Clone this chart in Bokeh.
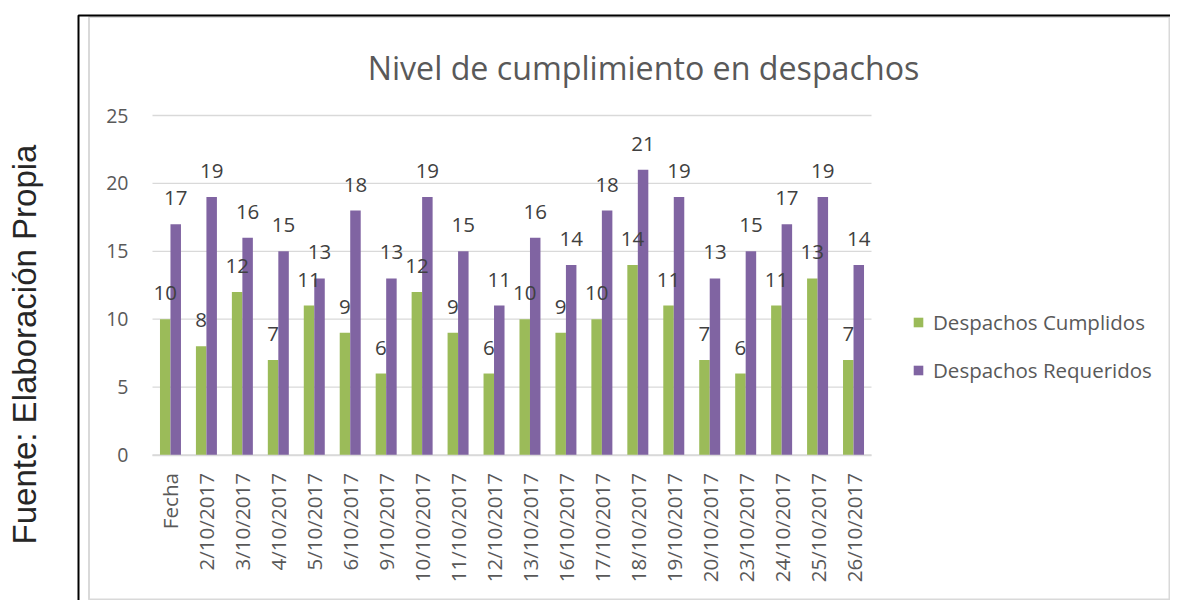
import math
from bokeh.plotting import figure
from bokeh.models import (ColumnDataSource, Range1d, Label, BoxAnnotation,
                          Legend, LegendItem, FixedTicker)
from bokeh.transform import dodge
from bokeh.core.properties import value
from bokeh.embed import file_html
from bokeh.resources import INLINE

categories = ["Fecha", "2/10/2017", "3/10/2017", "4/10/2017", "5/10/2017", "6/10/2017",
              "9/10/2017", "10/10/2017", "11/10/2017", "12/10/2017", "13/10/2017",
              "16/10/2017", "17/10/2017", "18/10/2017", "19/10/2017", "20/10/2017",
              "23/10/2017", "24/10/2017", "25/10/2017", "26/10/2017"]
cumplidos = [10, 8, 12, 7, 11, 9, 6, 12, 9, 6, 10, 9, 10, 14, 11, 7, 6, 11, 13, 7]
requeridos = [17, 19, 16, 15, 13, 18, 13, 19, 15, 11, 16, 14, 18, 21, 19, 13, 15, 17, 19, 14]
y_ticks = [0, 5, 10, 15, 20, 25]

title_text = "Nivel de cumplimiento en despachos"
source_text = "Fuente: Elaboración Propia"
series_names = ["Despachos Cumplidos", "Despachos Requeridos"]
colors = ["#9BBB59", "#8064A2"]

W, H = 1170, 600
# plot area (canvas px): categories span x 152..871, values 0..25 span y 454.5..115
FL, FR, F0, F25 = 152, 871, 454.5, 115
n = len(categories)
PX_X = (FR - FL) / n
PX_Y = (F0 - F25) / 25.0
x_start = -FL / PX_X
x_end = (W - FL) / PX_X
y_start = -(H - F0) / PX_Y
y_end = F0 / PX_Y

xc = [i + 0.5 for i in range(n)]

src = ColumnDataSource(dict(
    xc=xc,
    c=cumplidos,
    r=requeridos,
    c_txt=[str(v) for v in cumplidos],
    r_txt=[str(v) for v in requeridos],
))

p = figure(width=W, height=H, x_range=Range1d(x_start, x_end), y_range=Range1d(y_start, y_end),
           output_backend="svg", toolbar_location=None,
           min_border=0, min_border_left=0, min_border_right=0, min_border_top=0,
           min_border_bottom=0)
p.title.visible = False
p.outline_line_color = None
p.background_fill_color = "white"
p.border_fill_color = "white"
p.xgrid.visible = False
p.ygrid.visible = False

# outer frames
p.add_layout(BoxAnnotation(left=88.5, right=1169, top=H - 16.5, bottom=H - 599,
                           left_units="screen", right_units="screen", top_units="screen",
                           bottom_units="screen", fill_color=None, fill_alpha=0,
                           line_color="#D9D9D9", line_alpha=1, line_width=2))
p.add_layout(BoxAnnotation(left=78, right=3000, top=H - 15, bottom=-500,
                           left_units="screen", right_units="screen", top_units="screen",
                           bottom_units="screen", fill_color=None, fill_alpha=0,
                           line_color="black", line_alpha=1, line_width=2))

# gridlines within the plot area
p.segment(x0=[0] * len(y_ticks), x1=[n] * len(y_ticks), y0=y_ticks, y1=y_ticks,
          line_color="#D9D9D9", line_width=1.3)

off = 0.146
bw = 0.292
g1 = p.vbar(x=dodge("xc", -off), top="c", width=bw, source=src,
            fill_color=colors[0], line_color=None)
g2 = p.vbar(x=dodge("xc", off), top="r", width=bw, source=src,
            fill_color=colors[1], line_color=None)

lab_kw = dict(text_align="center", text_baseline="alphabetic", y_offset=-26,
              text_font=value("Open Sans"), text_font_size="20.5px", text_color="#404040")
p.text(x=dodge("xc", -off), y="c", text="c_txt", source=src, **lab_kw)
p.text(x=dodge("xc", off), y="r", text="r_txt", source=src, **lab_kw)

# axes placed inside the full-canvas frame
p.yaxis.fixed_location = 0
p.yaxis.bounds = (0, 25)
p.yaxis.ticker = FixedTicker(ticks=y_ticks)
p.yaxis.axis_line_color = None
p.yaxis.major_tick_line_color = None
p.yaxis.minor_tick_line_color = None
p.yaxis.major_tick_out = 0
p.yaxis.major_tick_in = 0
p.yaxis.major_label_standoff = 24
p.yaxis.major_label_text_font = "Open Sans"
p.yaxis.major_label_text_font_size = "19.5px"
p.yaxis.major_label_text_color = "#595959"

p.xaxis.fixed_location = 0
p.xaxis.bounds = (0, n)
p.xaxis.ticker = FixedTicker(ticks=xc)
p.xaxis.major_label_overrides = {x: c for x, c in zip(xc, categories)}
p.xaxis.axis_line_color = "#D9D9D9"
p.xaxis.axis_line_width = 1.3
p.xaxis.major_tick_line_color = None
p.xaxis.minor_tick_line_color = None
p.xaxis.major_tick_out = 0
p.xaxis.major_tick_in = 0
p.xaxis.major_label_standoff = 18
p.xaxis.major_label_orientation = math.pi / 2
p.xaxis.major_label_text_font = "Open Sans"
p.xaxis.major_label_text_font_size = "20.6px"
p.xaxis.major_label_text_color = "#595959"

# title
p.add_layout(Label(x=643, y=H - 67, x_units="screen", y_units="screen", text=title_text,
                   text_align="center", text_baseline="alphabetic", text_font="Open Sans",
                   text_font_size="32.2px", text_color="#595959"))
# source note
p.add_layout(Label(x=24, y=H - 344, x_units="screen", y_units="screen", text=source_text,
                   angle=math.pi / 2, text_align="center", text_baseline="alphabetic",
                   text_font="Liberation Sans", text_font_size="33px", text_color="#262626"))

legend = Legend(items=[LegendItem(label=series_names[0], renderers=[g1]),
                       LegendItem(label=series_names[1], renderers=[g2])],
                location=(912, H - 383.5), orientation="vertical",
                padding=0, margin=0, spacing=20, label_standoff=9,
                glyph_width=12, glyph_height=12, label_height=20,
                border_line_color=None, background_fill_alpha=0,
                label_text_font="Open Sans", label_text_font_size="20.5px",
                label_text_color="#595959")
p.add_layout(legend, "center")

open("out.html", "w").write(file_html(p, INLINE))
